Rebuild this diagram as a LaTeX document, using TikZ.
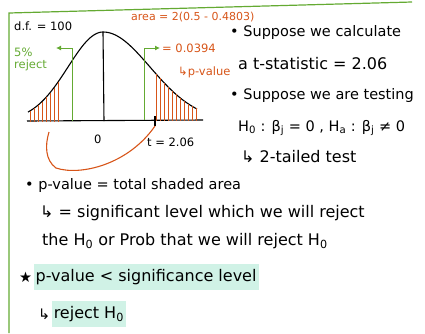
\documentclass[tikz,border=0pt]{standalone}
\usepackage{fontspec}
\setmainfont{DejaVu Sans}
\usepackage{xcolor}
\usetikzlibrary{arrows.meta,positioning}
\definecolor{pagegreen}{RGB}{100,170,50}
\definecolor{inkorange}{RGB}{215,85,25}
\definecolor{hilite}{RGB}{208,242,230}

\begin{document}
\begin{tikzpicture}[x=1pt, y=-1pt,
    note/.style={anchor=west, inner sep=0pt, font=\fontsize{14.5}{16}\selectfont},
    wide/.style={note, font=\fontsize{16}{18}\selectfont},
    small/.style={note, font=\fontsize{11.5}{13}\selectfont},
    greennote/.style={small, text=pagegreen},
    orangenote/.style={small, text=inkorange},
    marked/.style={wide, fill=hilite, inner xsep=2pt, inner ysep=5pt},
    border/.style={draw=pagegreen, line width=1.2pt},
    ink/.style={line width=1.1pt},
    hatch/.style={draw=inkorange, line width=0.7pt},
    cutline/.style={draw=pagegreen, line width=0.9pt, -{Latex[length=5pt,width=5pt]}},
    bracket/.style={draw=inkorange, line width=1.1pt}
]
\useasboundingbox (0,0) rectangle (425,333);
\draw[border] (9,333) -- (9,13) -- (412,2);

% bell curve, axis and tails
\draw[ink] plot[domain=28:103, samples=40] (\x, {121-89*exp(-((\x-103)^2)/(2*35^2))});
\draw[ink] plot[domain=103:197, samples=40] (\x, {121-89*exp(-((\x-103)^2)/(2*47^2))});
\draw[ink] (27,121) -- (203,120);
\draw[ink] (103,32) -- (104,121);
\foreach \x in {30,34,...,58}
  \draw[hatch] (\x,122) -- (\x,{121-89*exp(-((\x-103)^2)/(2*35^2))});
\foreach \x in {156,160,...,196}
  \draw[hatch] (\x,121) -- (\x,{121-89*exp(-((\x-103)^2)/(2*47^2))});

\coordinate (lcut) at (72,121);
\coordinate (rcut) at (144,120);
\coordinate (larrow) at (56,48);
\coordinate (rarrow) at (160,48);
\coordinate (tmark) at (155,126);
\coordinate (ltail) at (49,132);
\draw[cutline] (lcut) |- (larrow);
\draw[cutline] (rcut) |- (rarrow);
\draw[ink] (155,116) -- (tmark);
\draw[bracket] (tmark) .. controls (128,165) and (80,176) .. (56,168)
  .. controls (45,160) and (45,145) .. (ltail);

\node[small] (df) at (14,26) {d.f. = 100};
\node[greennote] (five) at (14,52) {5\%};
\node[greennote, below=3pt of five.south west, anchor=north west] (reject) {reject};
\node[orangenote, font=\fontsize{11}{13}\selectfont] (area) at (131,17) {area = 2(0.5 - 0.4803)};
\node[orangenote] (pval) at (162,48) {= 0.0394};
\node[orangenote] (pname) at (178,72) {↳p-value};
\node[small] (zero) at (94,139) {0};
\node[small] (tval) at (147,142) {t = 2.06};

\node[note] (calc) at (230,32) {• Suppose we calculate};
\node[wide] (tstat) at (238,64) {a t-statistic = 2.06};
\node[note] (test) at (230,95) {• Suppose we are testing};
\node[note] (hyp) at (238,128) {H\textsubscript{0} : β\textsubscript{j} = 0 , H\textsubscript{a} : β\textsubscript{j} ≠ 0};
\node[wide] (tails) at (241,157) {↳ 2-tailed test};

\node[note] (pdef) at (25,185) {• p-value = total shaded area};
\node[wide] (sig) at (40,213) {↳ = significant level which we will reject};
\node[wide] (prob) at (42,241) {the H\textsubscript{0} or Prob that we will reject H\textsubscript{0}};
\node[note] (star) at (19,277) {★};
\node[marked, right=1pt of star] (rule) {p-value < significance level};
\node[note] (then) at (38,314) {↳};
\node[marked, right=1pt of then] (act) {reject H\textsubscript{0}};
\end{tikzpicture}
\end{document}
